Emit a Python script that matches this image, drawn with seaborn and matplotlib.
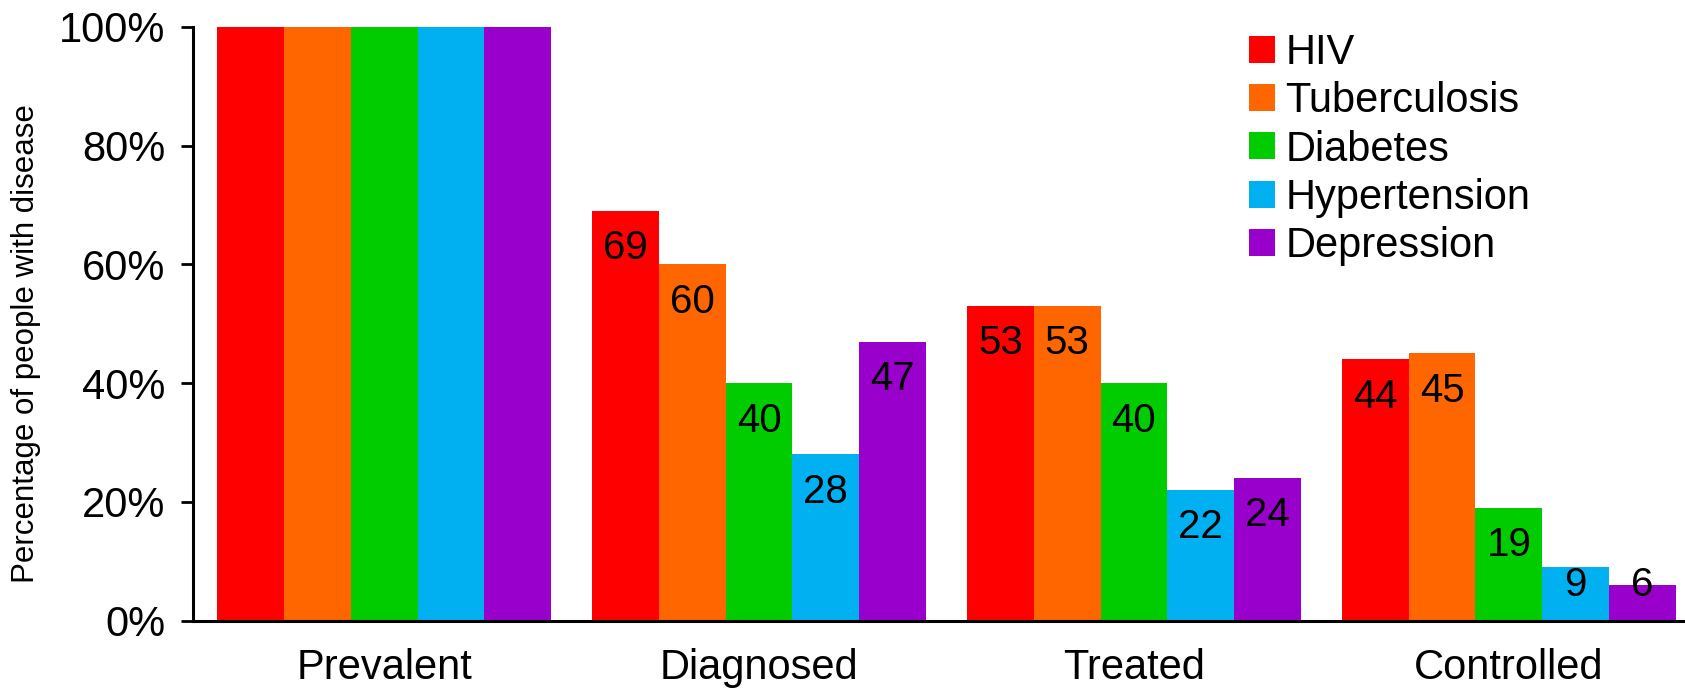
import pandas as pd
import seaborn as sns
import matplotlib.pyplot as plt
from matplotlib.ticker import PercentFormatter

stages = ['Prevalent', 'Diagnosed', 'Treated', 'Controlled']
diseases = ['HIV', 'Tuberculosis', 'Diabetes', 'Hypertension', 'Depression']
hiv = [100, 69, 53, 44]
tuberculosis = [100, 60, 53, 45]
diabetes = [100, 40, 40, 19]
hypertension = [100, 28, 22, 9]
depression = [100, 47, 24, 6]
colors = ['#FF0000', '#FF6600', '#00CC00', '#00B0F0', '#9900CC']

rows = []
for name, vals in zip(diseases, [hiv, tuberculosis, diabetes, hypertension, depression]):
    for st, v in zip(stages, vals):
        rows.append({'stage': st, 'disease': name, 'value': v})
df = pd.DataFrame(rows)

sns.set_style('white')
plt.rcParams['font.family'] = ['Liberation Sans', 'DejaVu Sans']
plt.rcParams['text.color'] = 'black'
plt.rcParams['axes.labelcolor'] = 'black'
plt.rcParams['xtick.color'] = 'black'
plt.rcParams['ytick.color'] = 'black'

fig = plt.figure(figsize=(16.85, 7), dpi=100)
ax = fig.add_axes([0.1146, 0.1135, 0.8854, 0.848])
sns.barplot(data=df, x='stage', y='value', hue='disease', order=stages,
            hue_order=diseases, palette=colors, width=0.89, saturation=1,
            linewidth=0, ax=ax)

# value labels inside bars, skip the Prevalent group
for cont in ax.containers:
    for i, bar in enumerate(cont):
        if i == 0:
            continue
        v = bar.get_height()
        ax.text(bar.get_x() + bar.get_width() / 2, max(v - 6.3, 6), '%d' % v,
                ha='center', va='center', fontsize=29, color='black')

ax.set_ylim(0, 100)
ax.set_xlim(-0.51, 3.47)
ax.set_yticks(range(0, 101, 20))
ax.yaxis.set_major_formatter(PercentFormatter(decimals=0))
ax.set_xlabel('')
ax.set_ylabel('Percentage of people with disease', fontsize=22.5)
ax.yaxis.set_label_coords(-0.102, 0.467)
ax.tick_params(axis='y', labelsize=30, length=9, width=2, left=True, pad=11, color='black')
ax.tick_params(axis='x', labelsize=30, length=0, pad=20)
sns.despine(ax=ax)
for s in ['left', 'bottom']:
    ax.spines[s].set_color('black')
    ax.spines[s].set_linewidth(2.2)

ax.legend(loc='upper left', bbox_to_anchor=(0.708, 0.99), frameon=False,
          fontsize=30, handlelength=0.62, handleheight=0.62, handletextpad=0.25,
          labelspacing=0.2, borderpad=0, borderaxespad=0)

fig.savefig('out.png', dpi=100)
